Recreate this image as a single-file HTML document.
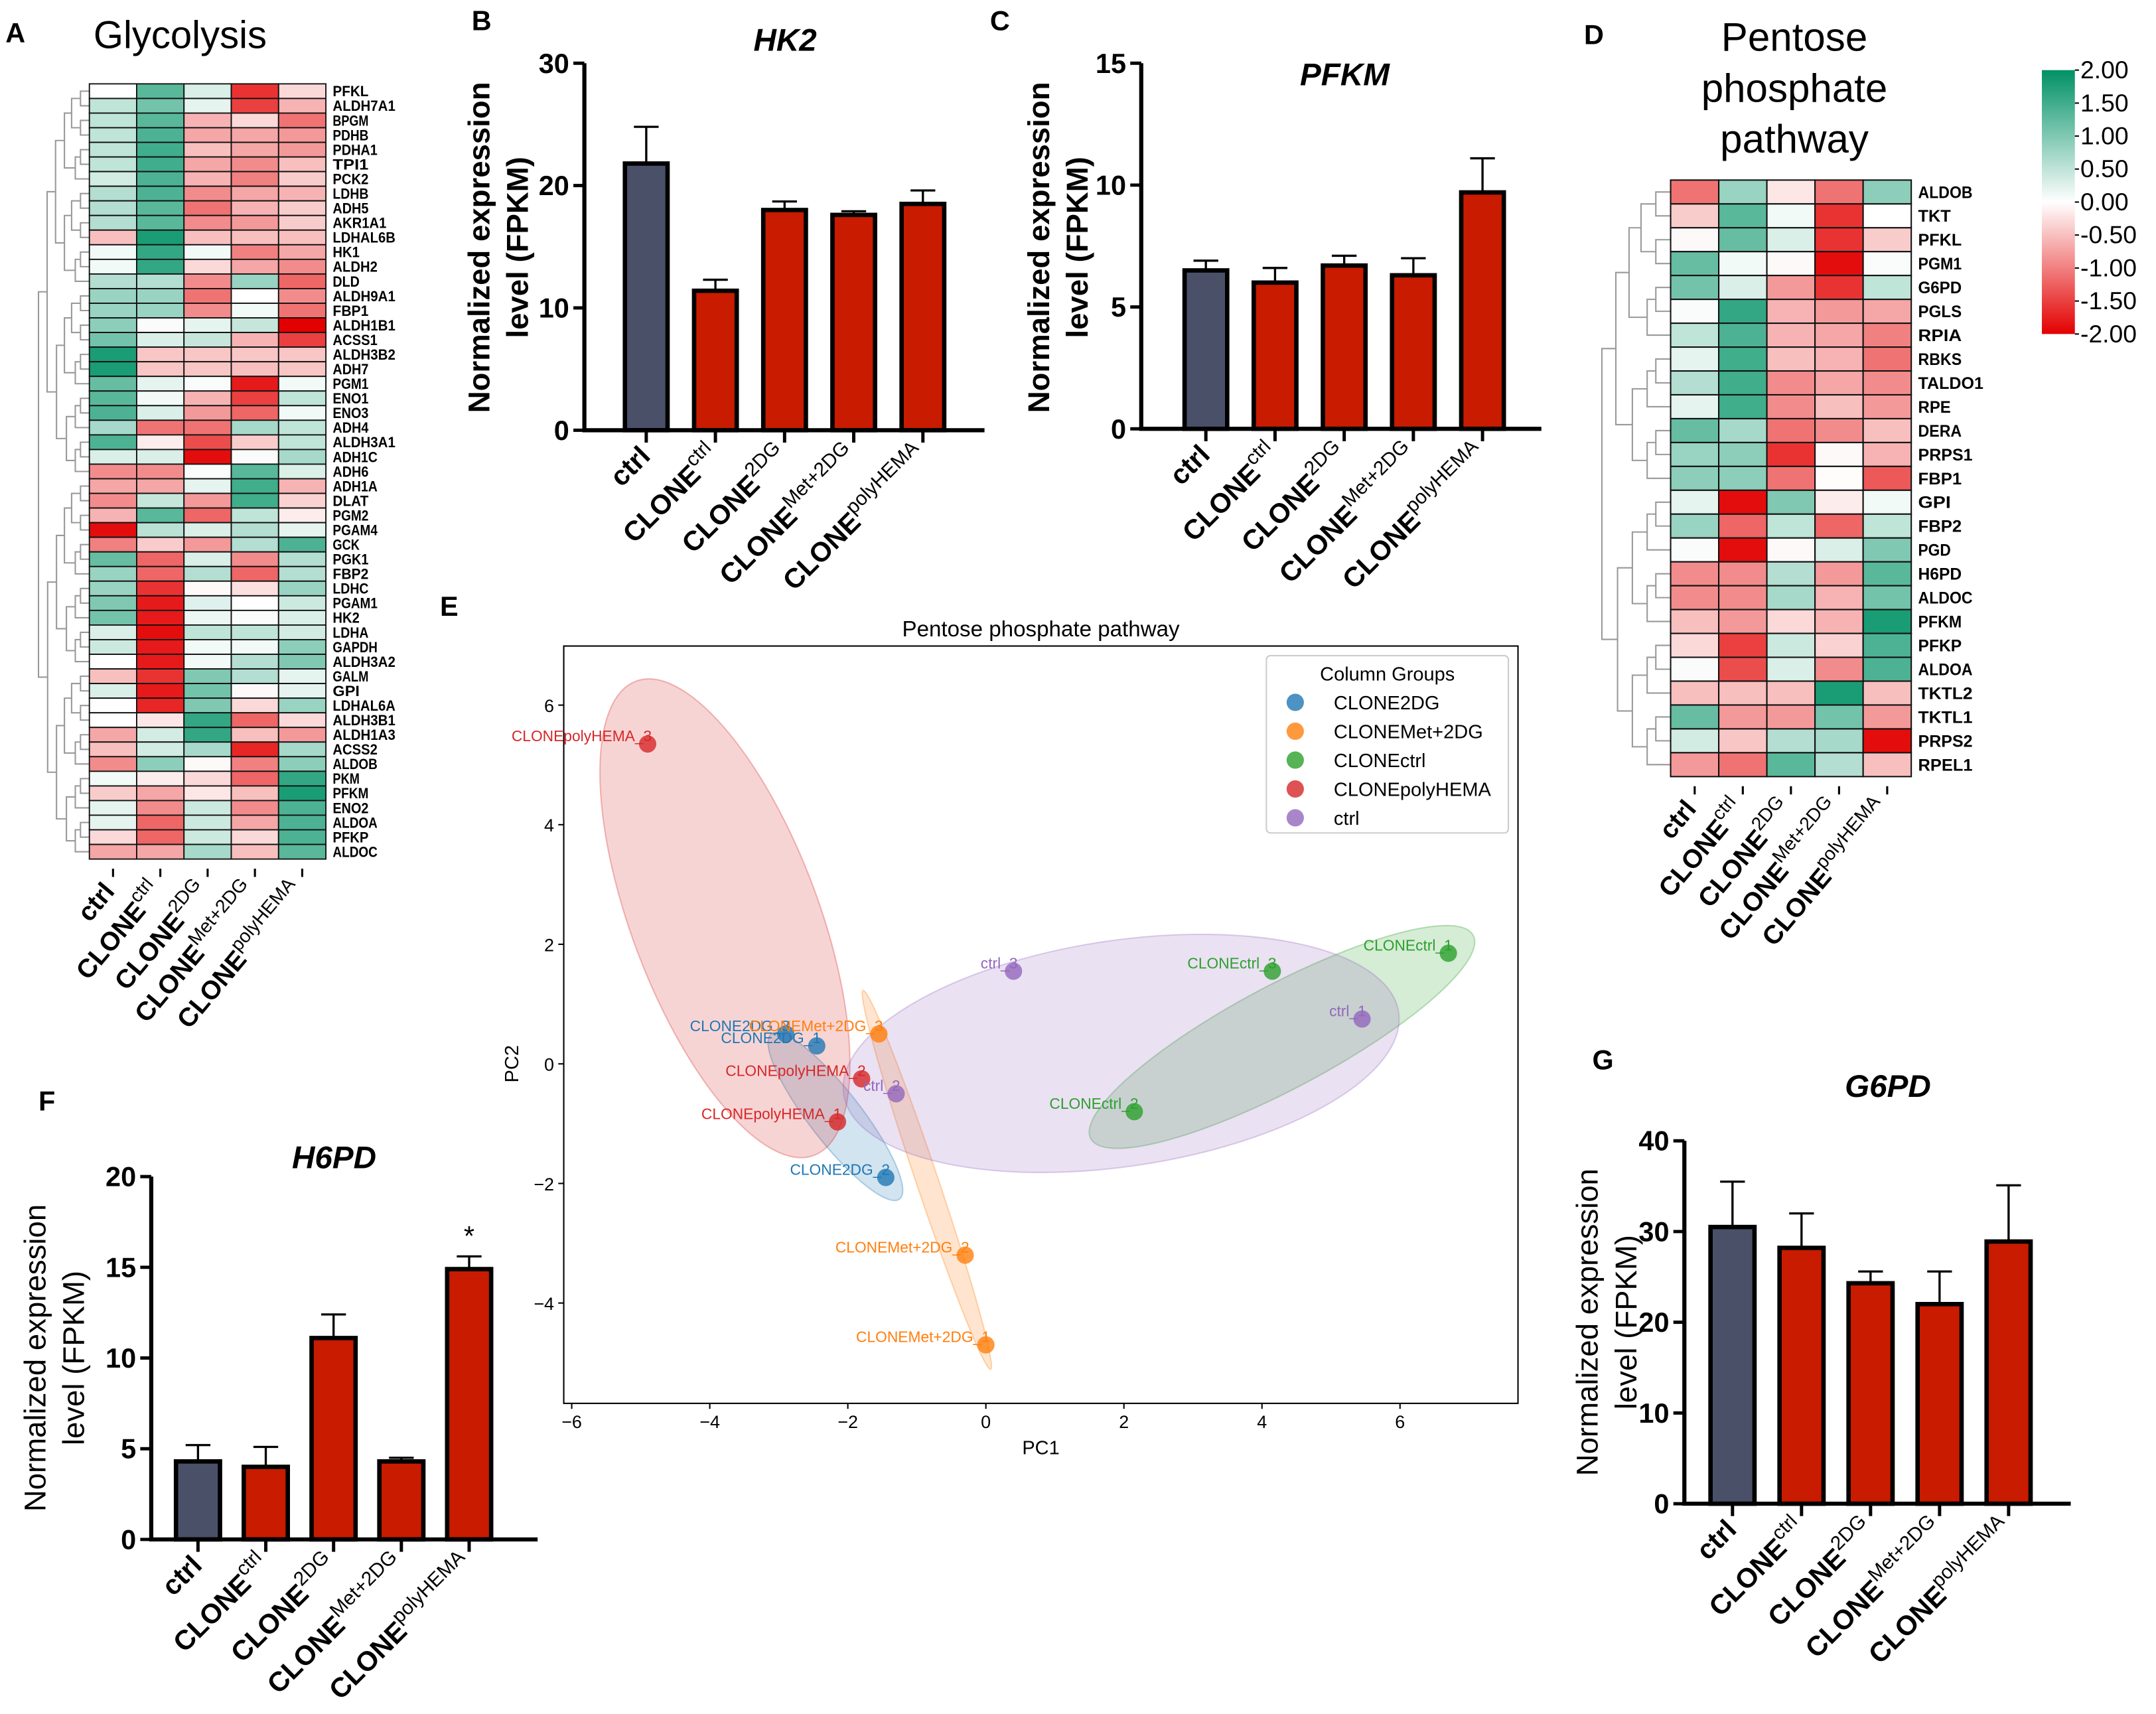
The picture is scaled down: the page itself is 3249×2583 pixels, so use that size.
<!DOCTYPE html>
<html><head><meta charset="utf-8">
<style>
html,body{margin:0;padding:0;background:#fff;}
svg{display:block;font-family:"Liberation Sans",Arial,sans-serif;}
</style></head>
<body>
<svg id="fig" xmlns="http://www.w3.org/2000/svg" width="3249" height="2583" viewBox="0 0 1568 1247" preserveAspectRatio="none">
<rect x="0" y="0" width="1568" height="1247" fill="#fff"/>
</svg>
<script>
// ---------- DATA ----------
const barGroups = ["ctrl","CLONE|ctrl","CLONE|2DG","CLONE|Met+2DG","CLONE|polyHEMA"];
const hk2Values = [21.8, 11.4, 18.0, 17.6, 18.5];
const hk2Errors = [3.0, 0.9, 0.7, 0.3, 1.1];
const hk2Ticks = [0, 10, 20, 30];
const pfkmValues = [6.5, 6.0, 6.7, 6.3, 9.7];
const pfkmErrors = [0.4, 0.6, 0.4, 0.7, 1.4];
const pfkmTicks = [0, 5, 10, 15];
const h6pdValues = [4.3, 4.0, 11.1, 4.3, 14.9];
const h6pdErrors = [0.9, 1.1, 1.3, 0.2, 0.7];
const h6pdTicks = [0, 5, 10, 15, 20];
const g6pdValues = [30.5, 28.2, 24.3, 22.0, 28.9];
const g6pdErrors = [5.0, 3.8, 1.3, 3.6, 6.2];
const g6pdTicks = [0, 10, 20, 30, 40];

const glyGenes = ["PFKL","ALDH7A1","BPGM","PDHB","PDHA1","TPI1","PCK2","LDHB","ADH5","AKR1A1","LDHAL6B","HK1","ALDH2","DLD","ALDH9A1","FBP1","ALDH1B1","ACSS1","ALDH3B2","ADH7","PGM1","ENO1","ENO3","ADH4","ALDH3A1","ADH1C","ADH6","ADH1A","DLAT","PGM2","PGAM4","GCK","PGK1","FBP2","LDHC","PGAM1","HK2","LDHA","GAPDH","ALDH3A2","GALM","GPI","LDHAL6A","ALDH3B1","ALDH1A3","ACSS2","ALDOB","PKM","PFKM","ENO2","ALDOA","PFKP","ALDOC"];
const glyValues = [
[0,1.3,0.3,-1.6,-0.3],[0.5,1.1,0.2,-1.5,-0.6],[0.5,1.3,-0.6,-0.3,-1.1],[0.5,1.4,-0.7,-0.7,-0.8],
[0.5,1.5,-0.5,-0.7,-0.8],[0.5,1.5,-0.7,-0.9,-0.5],[0.35,1.4,-0.6,-1.0,-0.4],[0.6,1.4,-0.9,-0.7,-0.6],
[0.6,1.3,-1.1,-0.6,-0.4],[0.6,1.3,-0.9,-0.8,-0.4],[-0.5,1.8,-0.5,-0.5,-0.5],[0.1,1.6,0.1,-1.0,-0.7],
[0.1,1.6,-0.3,-0.7,-0.9],[0.6,0.6,-0.9,0.8,-1.2],[0.8,0.8,-1.1,0,-0.9],[0.8,0.8,-0.9,0.1,-1.1],
[0.9,0.05,0.2,0.45,-2.0],[1.1,0.3,0.45,-0.6,-1.5],[1.8,-0.45,-0.45,-0.45,-0.45],[1.8,-0.45,-0.45,-0.5,-0.45],
[1.2,0.2,0.05,-1.8,0.1],[1.3,0.1,-0.6,-1.5,0.5],[1.4,0.3,-0.8,-1.2,0.1],[0.7,-1.1,-1.1,0.7,0.5],
[1.4,-0.15,-1.4,-0.4,0.5],[0.3,0.3,-1.9,0.05,0.7],[-0.9,-0.9,0.05,1.3,0.3],[-0.7,-0.7,0.2,1.5,-0.6],
[-0.9,0.45,-0.8,1.5,-0.35],[-0.6,1.3,-1.2,0.5,-0.15],[-1.9,0.55,0.3,0.6,0.2],[-1.0,-0.4,-0.8,0.6,1.4],
[1.2,-1.2,0.3,-0.9,0.6],[0.8,-1.2,0.6,-1.2,0.6],[0.8,-1.6,-0.05,-0.25,0.8],[1.0,-1.8,0.25,0,0.4],
[1.1,-1.8,0.15,0.05,0.3],[0.3,-1.9,0.5,0.5,0.35],[0.4,-1.8,0.1,0.1,0.9],[0,-1.8,0.1,0.6,1.0],
[-0.5,-1.6,1.0,0.6,0.2],[0.3,-1.8,1.1,-0.05,0.2],[0,-1.7,1.0,-0.3,0.8],[0,-0.2,1.6,-1.2,-0.3],
[-0.7,0.35,1.6,-0.5,-0.8],[-0.5,0.35,0.7,-1.7,0.7],[-0.9,0.9,-0.05,-1.0,0.9],[0.1,-0.15,-0.3,-1.2,1.6],
[-0.4,-0.7,-0.2,-0.5,1.8],[0.2,-0.9,0.4,-0.9,1.4],[0.2,-1.2,0.4,-0.7,1.4],[-0.3,-1.2,0.4,-0.3,1.4],
[-0.7,-0.7,0.7,-0.5,1.3]];

const ppGenes = ["ALDOB","TKT","PFKL","PGM1","G6PD","PGLS","RPIA","RBKS","TALDO1","RPE","DERA","PRPS1","FBP1","GPI","FBP2","PGD","H6PD","ALDOC","PFKM","PFKP","ALDOA","TKTL2","TKTL1","PRPS2","RPEL1"];
const ppValues = [
[-1.1,0.8,-0.2,-1.1,0.9],[-0.4,1.3,0.1,-1.6,0],[-0.05,1.2,0.3,-1.6,-0.4],[1.2,0.1,-0.05,-1.9,0.05],
[1.1,0.3,-0.8,-1.6,0.5],[0.05,1.6,-0.6,-0.8,-0.7],[0.5,1.4,-0.6,-0.7,-1.0],[0.2,1.5,-0.5,-0.6,-1.1],
[0.6,1.5,-0.9,-0.7,-0.9],[0.2,1.5,-0.9,-0.5,-0.8],[1.2,0.7,-1.1,-0.9,-0.5],[0.8,0.9,-1.6,-0.05,-0.6],
[0.9,0.9,-1.1,-0.02,-1.3],[0.2,-1.9,1.0,-0.15,0.1],[0.8,-1.2,0.5,-1.2,0.5],[0.05,-1.9,-0.05,0.3,1.0],
[-0.9,-0.9,0.6,-0.8,1.3],[-0.9,-0.9,0.7,-0.6,1.1],[-0.5,-0.8,-0.3,-0.6,1.8],[-0.3,-1.5,0.4,-0.35,1.4],
[0.05,-1.4,0.3,-0.9,1.4],[-0.5,-0.5,-0.5,1.8,-0.5],[1.2,-0.8,-0.8,1.1,-0.8],[0.35,-0.45,0.6,0.7,-1.9],
[-0.8,-1.1,1.3,0.6,-0.5]];
const colorbarTicks = [2.0,1.5,1.0,0.5,0.0,-0.5,-1.0,-1.5,-2.0];

const pcaGroups = ["CLONE2DG","CLONEMet+2DG","CLONEctrl","CLONEpolyHEMA","ctrl"];
const pcaColors = ["#1f77b4","#ff7f0e","#2ca02c","#d62728","#9467bd"];
const pcaNames = ["CLONE2DG_3","CLONE2DG_1","CLONE2DG_2","CLONEMet+2DG_3","CLONEMet+2DG_2","CLONEMet+2DG_1","CLONEctrl_3","CLONEctrl_2","CLONEctrl_1","CLONEpolyHEMA_3","CLONEpolyHEMA_2","CLONEpolyHEMA_1","ctrl_3","ctrl_2","ctrl_1"];
const pcaGroupIdx = [0,0,0,1,1,1,2,2,2,3,3,3,4,4,4];
const pcaX = [-2.9,-2.45,-1.45,-1.55,-0.3,0.0,4.15,2.15,6.7,-4.9,-1.8,-2.15,0.4,-1.3,5.45];
const pcaY = [0.5,0.3,-1.9,0.5,-3.2,-4.7,1.55,-0.8,1.85,5.35,-0.25,-0.97,1.55,-0.5,0.75];
const pcaXTicks = [-6,-4,-2,0,2,4,6];
const pcaYTicks = [-4,-2,0,2,4,6];
// ellipse major-axis end points (data units) and minor half-width, per group
const ellipseStartX = [-3.11,-1.78,1.52,-5.07,-2.06];
const ellipseStartY = [0.5,1.23,-1.25,6.4,-0.51];
const ellipseEndX = [-1.25,0.07,7.06,-2.49,5.98];
const ellipseEndY = [-2.26,-5.11,2.15,-1.53,0.86];
const ellipseMinor = [0.4,0.17,0.8,1.45,1.75];

// ---------- HELPERS ----------
const NS="http://www.w3.org/2000/svg";
const svg=document.getElementById('fig');
function mk(tag,attrs,parent){const e=document.createElementNS(NS,tag);for(const k in attrs)e.setAttribute(k,attrs[k]);(parent||svg).appendChild(e);return e;}
function txt(s,attrs,parent){const e=mk('text',attrs,parent);e.textContent=s;return e;}
function grp(name,parent){const g=mk('g',{},parent);return g;}
function heatColor(v){
  v=Math.max(-2,Math.min(2,v));
  const g=[0,145,100], r=[227,0,0], w=[255,255,255];
  const t=Math.abs(v)/2, c=v>=0?g:r;
  return 'rgb('+c.map((x,i)=>Math.round(w[i]+(x-w[i])*t)).join(',')+')';
}
function panelLetter(s,x,y){const t=txt(s,{x:x,y:y,'font-size':20,'font-weight':'bold'});}

function groupLabel(parent,label,x,y,fs,rot){
  const parts=label.split('|');
  const t=mk('text',{x:x,y:y,'text-anchor':'end','font-size':fs,'font-weight':'bold',transform:'rotate('+rot+' '+x+' '+y+')'},parent);
  
  
  const a=mk('tspan',{},t);a.textContent=parts[0];
  if(parts[1]){const b=mk('tspan',{dy:-fs*0.45,'font-size':fs*0.72,'font-weight':'normal'},t);b.textContent=parts[1];}
  return t;
}

// ---------- BAR CHART ----------
function barChart(o){
  const g=grp(o.name);
  const y=v=>o.y0-(v/o.max)*(o.y0-o.yTop);
  const tt=txt(o.title,{x:o.titleX,y:o.titleY,'text-anchor':'middle','font-size':23,'font-weight':'bold','font-style':'italic'},g);
  
  const yt=mk('text',{transform:'translate('+o.ytX+','+o.ytY+') rotate(-90)','text-anchor':'middle','font-size':22,'font-weight':o.ytBold?'bold':'normal'},g);
  
  const l1=mk('tspan',{x:0,y:0},yt);l1.textContent='Normalized expression';
  const l2=mk('tspan',{x:0,y:28},yt);l2.textContent='level (FPKM)';
  o.values.forEach((v,i)=>{
    const cx=o.x0+o.first+i*o.step, w=o.bw;
    const top=y(v), errTop=y(v+o.errors[i]);
    const el=mk('line',{x1:cx,x2:cx,y1:top,y2:errTop,stroke:'#000','stroke-width':1.6},g);
    
    const ec=mk('line',{x1:cx-9,x2:cx+9,y1:errTop,y2:errTop,stroke:'#000','stroke-width':1.6},g);
    
    const r=mk('rect',{x:cx-w/2,y:top,width:w,height:o.y0-top,fill:i===0?'#4a5068':'#c81b00',stroke:'#000','stroke-width':3.2},g);
    
    const tk=mk('line',{x1:cx,x2:cx,y1:o.y0,y2:o.y0+9,stroke:'#000','stroke-width':2.4},g);
    
    groupLabel(g,barGroups[i],cx+4,o.y0+20,20,-45);
    if(o.star && o.star[i]){const s=txt('*',{x:cx,y:errTop-8,'text-anchor':'middle','font-size':20},g);}
  });
  const ya=mk('line',{x1:o.x0,x2:o.x0,y1:o.yTop,y2:o.y0,stroke:'#000','stroke-width':3},g);
  
  const xa=mk('line',{x1:o.x0-1.5,x2:o.xEnd,y1:o.y0,y2:o.y0,stroke:'#000','stroke-width':3},g);
  
  o.ticks.forEach(t=>{
    const tl=mk('line',{x1:o.x0-8,x2:o.x0,y1:y(t),y2:y(t),stroke:'#000','stroke-width':2.4},g);
    
    const lb=txt(String(t),{x:o.x0-11,y:y(t)+7,'text-anchor':'end','font-size':20,'font-weight':'bold'},g);
    
  });
}

barChart({name:'hk2-chart',title:'HK2',titleX:571,titleY:37,values:hk2Values,errors:hk2Errors,ticks:hk2Ticks,max:30,x0:425,xEnd:716,y0:313,yTop:46,first:45,step:50.3,bw:31,ytX:356,ytY:180,ytBold:true});
barChart({name:'pfkm-chart',title:'PFKM',titleX:978,titleY:62,values:pfkmValues,errors:pfkmErrors,ticks:pfkmTicks,max:15,x0:830,xEnd:1121,y0:312,yTop:46,first:47,step:50.3,bw:31,ytX:763,ytY:180,ytBold:true});
barChart({name:'h6pd-chart',title:'H6PD',titleX:243,titleY:850,values:h6pdValues,errors:h6pdErrors,ticks:h6pdTicks,max:20,x0:110,xEnd:391,y0:1120,yTop:856,first:34,step:49.3,bw:32,ytX:33,ytY:988,ytBold:false,star:[0,0,0,0,1]});
barChart({name:'g6pd-chart',title:'G6PD',titleX:1373,titleY:798,values:g6pdValues,errors:g6pdErrors,ticks:g6pdTicks,max:40,x0:1225,xEnd:1506,y0:1094,yTop:830,first:35,step:50.2,bw:32,ytX:1162,ytY:962,ytBold:false});

// ---------- HEATMAPS ----------
function dendro(g,n,x0,x1,y0,rh){
  function build(a,b){ if(a===b) return {y:y0+(a+0.5)*rh,x:x1,size:1};
    const m=Math.floor((a+b)/2), L=build(a,m), R=build(m+1,b);
    const size=b-a+1, x=x1-(x1-x0)*Math.min(1,Math.log2(size)/Math.log2(n));
    const p=mk('path',{d:'M'+L.x+' '+L.y+'H'+x+'V'+R.y+'H'+R.x,fill:'none',stroke:'#999','stroke-width':1},g);
    
    return {x:x,y:(L.y+R.y)/2,size:size};}
  build(0,n-1);
}
function heatmap(o){
  const g=grp(o.name);
  const n=o.genes.length, rh=(o.y1-o.y0)/n, cw=(o.x1-o.x0)/5;
  dendro(g,n,o.dx,o.x0,o.y0,rh);
  o.values.forEach((row,r)=>{
    row.forEach((v,c)=>{
      const rc=mk('rect',{x:o.x0+c*cw,y:o.y0+r*rh,width:cw,height:rh,fill:heatColor(v),stroke:'#111','stroke-width':o.sw},g);
      
    });
    const gl=txt(o.genes[r],{x:o.x1+5,y:o.y0+(r+0.5)*rh+o.fs*0.36,'font-size':o.fs,'font-weight':'bold',textLength:o.genes[r].length*o.fs*o.cond,lengthAdjust:'spacingAndGlyphs'},g);
    
  });
  barGroups.forEach((b,c)=>{
    const cx=o.x0+(c+0.5)*cw;
    const tk=mk('line',{x1:cx,x2:cx,y1:o.y1+7,y2:o.y1+13,stroke:'#000','stroke-width':1.5},g);
    
    groupLabel(g,b,cx+2,o.y1+24,o.lfs,-50);
  });
}
heatmap({name:'glycolysis-heatmap',genes:glyGenes,values:glyValues,x0:65,x1:237,y0:61,y1:625,dx:28,fs:10.5,cond:0.62,sw:0.9,lfs:19});
heatmap({name:'pentose-heatmap',genes:ppGenes,values:ppValues,x0:1215,x1:1390,y0:131,y1:565,dx:1165,fs:12,cond:0.66,sw:1,lfs:19});

panelLetter('A',4,31);
let t=txt('Glycolysis',{x:68,y:35,'font-size':28});
panelLetter('B',343,22);panelLetter('C',720,22);panelLetter('D',1152,32);
panelLetter('E',320,448);panelLetter('F',28,808);panelLetter('G',1158,778);
['Pentose','phosphate','pathway'].forEach((s,i)=>{const e=txt(s,{x:1305,y:37+i*37,'text-anchor':'middle','font-size':29});});

(function(){
  const g=grp('colorbar');
  const defs=mk('defs',{},g);
  const lg=mk('linearGradient',{id:'cb',x1:0,y1:0,x2:0,y2:1},defs);
  [[0,heatColor(2)],[0.25,heatColor(1)],[0.5,heatColor(0)],[0.75,heatColor(-1)],[1,heatColor(-2)]].forEach(s=>mk('stop',{offset:s[0],'stop-color':s[1]},lg));
  const r=mk('rect',{x:1485,y:51,width:24,height:192,fill:'url(#cb)'},g);
  
  colorbarTicks.forEach(v=>{
    const yy=51+(2-v)/4*192;
    mk('line',{x1:1509,x2:1512,y1:yy,y2:yy,stroke:'#000','stroke-width':1},g);
    const l=txt(v.toFixed(2),{x:1513,y:yy+6,'font-size':18},g);
    
  });
})();

// ---------- PCA ----------
(function(){
  const g=grp('pca-plot');
  const L=410,R=1104,T=470,B=1021;
  const X=v=>717+50.2*v, Y=v=>774-43.5*v;
  const tt=txt('Pentose phosphate pathway',{x:757,y:463,'text-anchor':'middle','font-size':16},g);
  
  pcaGroups.forEach((gname,gi)=>{
    const ax=X(ellipseStartX[gi]), ay=Y(ellipseStartY[gi]), bx=X(ellipseEndX[gi]), by=Y(ellipseEndY[gi]);
    const cx=(ax+bx)/2, cy=(ay+by)/2, rx=Math.hypot(bx-ax,by-ay)/2, ang=Math.atan2(by-ay,bx-ax)*180/Math.PI;
    const ry=ellipseMinor[gi]*47;
    const e=mk('ellipse',{cx:cx,cy:cy,rx:rx,ry:ry,transform:'rotate('+ang+' '+cx+' '+cy+')',fill:pcaColors[gi],'fill-opacity':0.2,stroke:pcaColors[gi],'stroke-opacity':0.3,'stroke-width':1},g);
    
  });
  pcaNames.forEach((nm,i)=>{
    const col=pcaColors[pcaGroupIdx[i]], px=X(pcaX[i]), py=Y(pcaY[i]);
    const c=mk('circle',{cx:px,cy:py,r:6.3,fill:col,'fill-opacity':0.8},g);
    
    const l=txt(nm,{x:px+3,y:py-2,'text-anchor':'end','font-size':11,fill:col},g);
    
  });
  const fr=mk('rect',{x:L,y:T,width:R-L,height:B-T,fill:'none',stroke:'#000','stroke-width':1},g);
  
  pcaXTicks.forEach(v=>{mk('line',{x1:X(v),x2:X(v),y1:B,y2:B+4,stroke:'#000'},g);
    const l=txt(String(v).replace('-','\u2212'),{x:X(v),y:B+18,'text-anchor':'middle','font-size':13},g);});
  pcaYTicks.forEach(v=>{mk('line',{x1:L-4,x2:L,y1:Y(v),y2:Y(v),stroke:'#000'},g);
    const l=txt(String(v).replace('-','\u2212'),{x:L-7,y:Y(v)+5,'text-anchor':'end','font-size':13},g);});
  let a=txt('PC1',{x:757,y:1058,'text-anchor':'middle','font-size':14},g);
  a=txt('PC2',{x:0,y:0,'text-anchor':'middle','font-size':14,transform:'translate(377,774) rotate(-90)'},g);
  const lg=grp('legend',g);
  mk('rect',{x:921,y:477,width:176,height:129,rx:3,fill:'#fff','fill-opacity':0.8,stroke:'#ccc'},lg);
  let lt=txt('Column Groups',{x:1009,y:495,'text-anchor':'middle','font-size':14},lg);
  pcaGroups.forEach((gn,i)=>{
    const yy=511+i*21;
    const m=mk('circle',{cx:942,cy:yy,r:6.3,fill:pcaColors[i],'fill-opacity':0.8},lg);
    const e=txt(gn,{x:970,y:yy+5,'font-size':14},lg);
  });
})();
</script>
</body></html>
